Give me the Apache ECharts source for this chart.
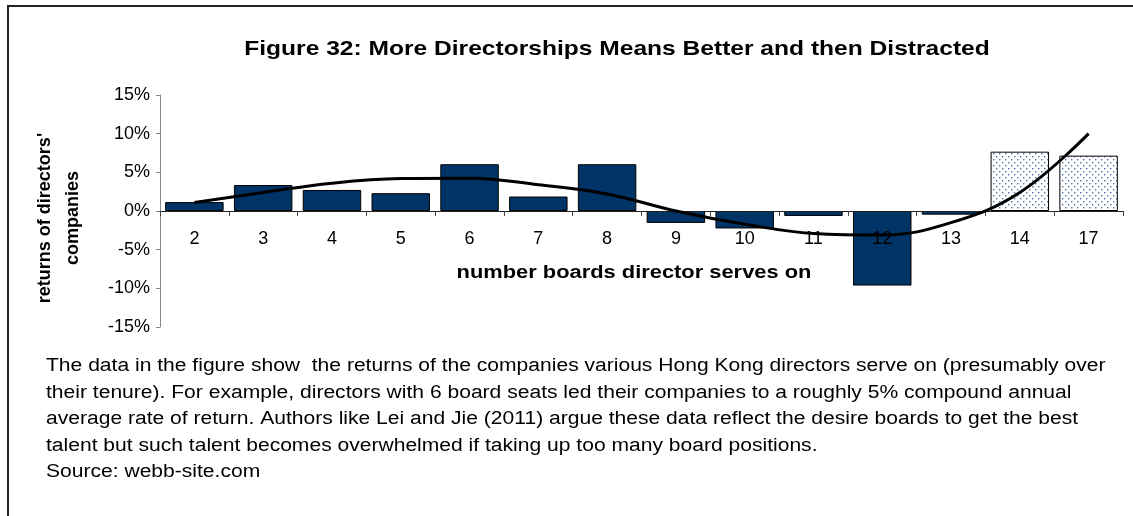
<!DOCTYPE html>
<html>
<head>
<meta charset="utf-8">
<script src="https://cdn.jsdelivr.net/npm/echarts@6/dist/echarts.min.js"></script>
<style>
  html, body { margin: 0; padding: 0; background: #fff; }
  #chart { position: absolute; left: 0; top: 0; width: 1133px; height: 516px; }
  #frame { position: absolute; left: 7px; top: 5px; width: 1126px; height: 511px;
           border-left: 2px solid #222; border-top: 2px solid #222; pointer-events: none; }
</style>
</head>
<body>
<div id="chart"></div>
<div id="frame"></div>
<script>
// number of boards a director serves on
const boards = ['2', '3', '4', '5', '6', '7', '8', '9', '10', '11', '12', '13', '14', '17'];
// returns of directors' companies (%)
const barReturns = [1.15, 3.36, 2.72, 2.3, 6.05, 1.87, 6.05, -1.54, -2.26, -0.64, -9.64, -0.47, 7.67, 7.16];
// trend curve drawn over the bars (%)
const trendReturns = [1.1, 2.4, 3.6, 4.2, 4.25, 3.4, 2.2, 0.0, -1.7, -2.9, -3.1, -1.5, 2.4, 10.0];
// boards drawn with the dotted fill
const dottedBoards = ['14', '17'];

const titleText = 'Figure 32: More Directorships Means Better and then Distracted';
const xName = 'number boards director serves on';
const yName = "returns of directors'\ncompanies";
const noteLines = [
    'The data in the figure show  the returns of the companies various Hong Kong directors serve on (presumably over',
    'their tenure). For example, directors with 6 board seats led their companies to a roughly 5% compound annual',
    'average rate of return. Authors like Lei and Jie (2011) argue these data reflect the desire boards to get the best',
    'talent but such talent becomes overwhelmed if taking up too many board positions.',
    'Source: webb-site.com'
];

const FONT = '"Liberation Sans", Arial, sans-serif';
// the reference text is a little stretched sideways
const STRETCH = 1.17;

// small dotted pattern like the excel fill
const dots = document.createElement('canvas');
dots.width = 6;
dots.height = 6;
const g = dots.getContext('2d');
g.fillStyle = '#ffffff';
g.fillRect(0, 0, 6, 6);
g.fillStyle = '#4f73a8';
g.fillRect(0, 0, 1.4, 1.4);
g.fillRect(3, 3, 1.4, 1.4);

const barData = barReturns.map((v, i) => {
    if (dottedBoards.includes(boards[i])) {
        return { value: v, itemStyle: { color: { image: dots, repeat: 'repeat' } } };
    }
    return v;
});

const myChart = echarts.init(document.getElementById('chart'), null, { renderer: 'canvas' });

const gridTop = 95, gridBottom = 189, gridHeight = 516 - gridTop - gridBottom;

const option = {
    animation: false,
    textStyle: { fontFamily: FONT },
    grid: { left: 160, right: 10, top: gridTop, bottom: gridBottom, containLabel: false },
    xAxis: {
        type: 'category',
        data: boards,
        z: 3, // labels show over the 12 bar like in the original
        // sit the axis (line, ticks, labels) on the 0% line
        offset: -gridHeight / 2,
        axisLine: { onZero: false, lineStyle: { color: '#222', width: 1 } },
        axisTick: { show: true, length: 5, lineStyle: { color: '#444' } },
        axisLabel: { margin: 19, fontSize: 18, color: '#000', fontFamily: FONT }
    },
    yAxis: {
        type: 'value',
        min: -15,
        max: 15,
        interval: 5,
        splitLine: { show: false },
        axisLine: { show: true, lineStyle: { color: '#888', width: 1 } },
        axisTick: { show: true, length: 4, lineStyle: { color: '#888' } },
        axisLabel: { formatter: '{value}%', fontSize: 18, color: '#000', margin: 10, fontFamily: FONT }
    },
    series: [
        {
            type: 'bar',
            data: barData,
            barCategoryGap: '15%',
            itemStyle: { color: '#003366', borderColor: '#000', borderWidth: 1 }
        },
        {
            type: 'line',
            data: trendReturns,
            smooth: 0.4,
            symbol: 'none',
            lineStyle: { color: '#000', width: 3 },
            z: 5
        }
    ],
    graphic: [
        {
            type: 'text',
            x: 617,
            y: 49,
            scaleX: STRETCH,
            style: { text: titleText, font: 'bold 21px ' + FONT, fill: '#000', align: 'center', verticalAlign: 'middle' }
        },
        {
            type: 'text',
            x: 634,
            y: 273,
            scaleX: STRETCH,
            style: { text: xName, font: 'bold 18.7px ' + FONT, fill: '#000', align: 'center', verticalAlign: 'middle' }
        },
        {
            type: 'text',
            x: 59,
            y: 218,
            rotation: Math.PI / 2,
            style: {
                text: yName,
                font: 'bold 18px ' + FONT,
                fill: '#000',
                align: 'center',
                verticalAlign: 'middle',
                lineHeight: 28
            }
        },
        {
            type: 'text',
            x: 46,
            y: 353,
            scaleX: STRETCH,
            style: {
                text: noteLines.join('\n'),
                font: '18px ' + FONT,
                fill: '#000',
                lineHeight: 26.5,
                verticalAlign: 'top'
            }
        }
    ]
};

myChart.setOption(option);
window.addEventListener('resize', myChart.resize);
</script>
</body>
</html>
